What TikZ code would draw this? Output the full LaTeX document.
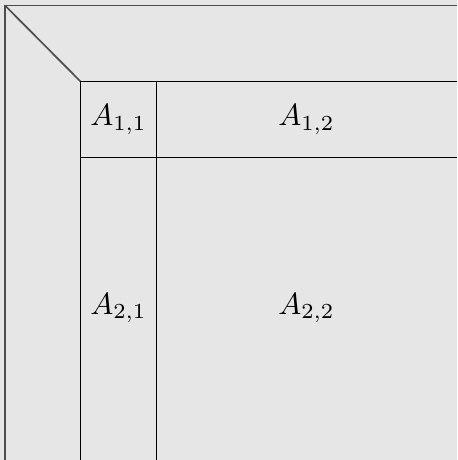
\documentclass[tikz,border=0pt]{standalone}
\usetikzlibrary{positioning}
\definecolor{fondoGris}{HTML}{E6E6E6}
\definecolor{bordeGris}{HTML}{4D4D4D}

\begin{document}
\begin{tikzpicture}[x=0.3257pt, y=-0.3257pt,
        marco/.style={draw=bordeGris, line width=0.55pt},
        celda/.style={draw=black, line width=0.55pt},
        etq/.style={inner sep=0pt, anchor=center}]
    \fill[fondoGris] (0,0) rectangle (457,460);
    \useasboundingbox (0,0) rectangle (457,460);
    % marco exterior y esquina
    \coordinate (ext) at (5,5.5);
    \coordinate (int) at (80.5,81.5);
    \draw[marco] (457,5.5) -- (ext) -- (5,460);
    \draw[marco] (ext) -- (int);
    % bloques
    \draw[celda] (80.5,460) -- (int) -- (457,81.5);
    \draw[celda] (156.5,81.5) -- (156.5,460);
    \draw[celda] (80.5,157.5) -- (457,157.5);
    \node[etq] (a11) at (118.5,119.5) {$A_{1,1}$};
    \node[etq] (a12) at (306.5,119.5) {$A_{1,2}$};
    \node[etq] (a21) at (118.5,308) {$A_{2,1}$};
    \node[etq] (a22) at (306.5,308) {$A_{2,2}$};
\end{tikzpicture}
\end{document}
